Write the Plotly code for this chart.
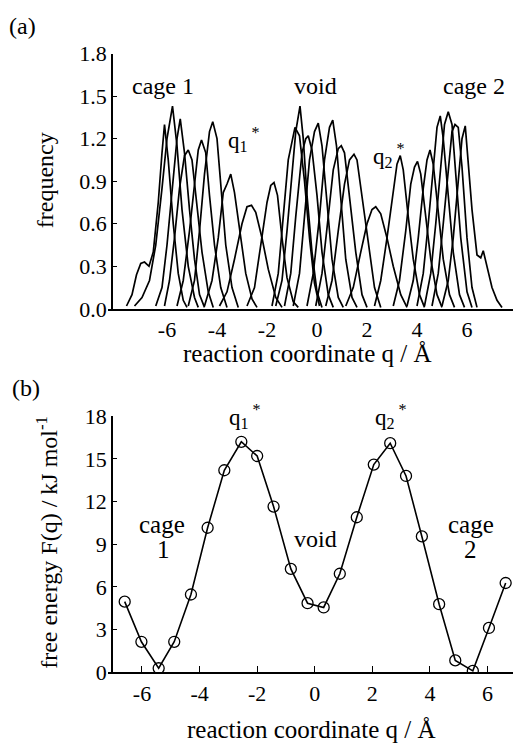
import plotly.graph_objects as go

# ---------------- data ----------------
# (a) umbrella-sampling histograms: q values and frequencies of each window
hist_q = [
    [-7.62, -7.40, -7.22, -7.05, -6.90, -6.72, -6.55, -6.35, -6.20, -6.10, -5.95, -5.75, -5.55, -5.35, -5.20],
    [-7.30, -7.00, -6.70, -6.45, -6.20, -6.00, -5.78, -5.60, -5.40, -5.15, -4.90, -4.75],
    [-6.45, -6.20, -6.00, -5.80, -5.60, -5.47, -5.30, -5.10, -4.90, -4.70, -4.50],
    [-6.10, -5.90, -5.70, -5.50, -5.30, -5.15, -5.00, -4.85, -4.60, -4.35, -4.15],
    [-5.60, -5.35, -5.10, -4.90, -4.75, -4.62, -4.45, -4.30, -4.10, -3.85, -3.60],
    [-5.15, -4.90, -4.70, -4.50, -4.30, -4.17, -4.00, -3.85, -3.65, -3.40, -3.15],
    [-4.50, -4.20, -3.95, -3.75, -3.60, -3.45, -3.30, -3.10, -2.85, -2.60, -2.40],
    [-3.90, -3.60, -3.30, -3.00, -2.80, -2.62, -2.45, -2.20, -1.95, -1.65, -1.40],
    [-2.80, -2.50, -2.25, -2.00, -1.85, -1.72, -1.58, -1.40, -1.20, -0.95, -0.75],
    [-1.65, -1.40, -1.20, -1.00, -0.85, -0.68, -0.55, -0.40, -0.20, 0.00, 0.20],
    [-1.80, -1.55, -1.35, -1.15, -0.88, -0.70, -0.50, -0.30, -0.10, 0.10],
    [-1.30, -1.05, -0.85, -0.60, -0.45, -0.35, -0.20, 0.00, 0.20, 0.45, 0.65],
    [-0.95, -0.70, -0.50, -0.30, -0.10, 0.05, 0.20, 0.40, 0.60, 0.85, 1.05],
    [-0.40, -0.15, 0.10, 0.30, 0.50, 0.63, 0.78, 0.95, 1.15, 1.40, 1.60],
    [-0.05, 0.20, 0.45, 0.65, 0.85, 0.97, 1.10, 1.30, 1.55, 1.80, 2.00],
    [0.35, 0.60, 0.85, 1.10, 1.30, 1.48, 1.60, 1.80, 2.05, 2.30, 2.55],
    [1.15, 1.45, 1.75, 2.00, 2.20, 2.35, 2.55, 2.80, 3.05, 3.35, 3.60],
    [2.30, 2.55, 2.80, 3.05, 3.20, 3.33, 3.45, 3.65, 3.85, 4.10, 4.30],
    [3.05, 3.30, 3.55, 3.75, 3.90, 4.02, 4.15, 4.35, 4.55, 4.80, 5.00],
    [3.60, 3.85, 4.05, 4.25, 4.40, 4.52, 4.65, 4.85, 5.05, 5.30, 5.50],
    [4.00, 4.25, 4.45, 4.65, 4.80, 4.93, 5.05, 5.25, 5.45, 5.70, 5.90],
    [4.30, 4.55, 4.75, 4.95, 5.10, 5.25, 5.40, 5.55, 5.75, 6.00, 6.20],
    [4.60, 4.85, 5.05, 5.25, 5.40, 5.52, 5.65, 5.80, 6.00, 6.20, 6.40],
    [5.00, 5.25, 5.45, 5.65, 5.80, 5.93, 6.05, 6.20, 6.40, 6.55, 6.65, 6.80, 7.00, 7.20, 7.40],
]
hist_freq = [
    [0.02, 0.10, 0.24, 0.32, 0.33, 0.30, 0.40, 0.75, 1.10, 1.30, 1.05, 0.60, 0.25, 0.06, 0.01],
    [0.02, 0.08, 0.20, 0.45, 0.85, 1.20, 1.43, 1.15, 0.70, 0.30, 0.08, 0.01],
    [0.02, 0.15, 0.45, 0.85, 1.20, 1.34, 1.10, 0.70, 0.35, 0.10, 0.01],
    [0.02, 0.20, 0.50, 0.85, 1.08, 1.12, 1.05, 0.80, 0.40, 0.12, 0.01],
    [0.02, 0.20, 0.55, 0.90, 1.12, 1.19, 1.10, 0.80, 0.45, 0.15, 0.01],
    [0.02, 0.20, 0.55, 0.95, 1.25, 1.32, 1.20, 0.85, 0.45, 0.15, 0.01],
    [0.02, 0.20, 0.50, 0.82, 0.88, 0.95, 0.82, 0.55, 0.25, 0.07, 0.01],
    [0.02, 0.12, 0.35, 0.60, 0.72, 0.73, 0.68, 0.50, 0.28, 0.08, 0.01],
    [0.02, 0.15, 0.45, 0.75, 0.87, 0.89, 0.80, 0.50, 0.22, 0.05, 0.01],
    [0.02, 0.20, 0.55, 0.95, 1.25, 1.43, 1.20, 0.80, 0.40, 0.12, 0.01],
    [0.02, 0.25, 0.65, 1.05, 1.28, 1.22, 0.90, 0.50, 0.18, 0.02],
    [0.02, 0.25, 0.65, 1.10, 1.20, 1.22, 1.12, 0.80, 0.40, 0.10, 0.01],
    [0.02, 0.25, 0.65, 1.05, 1.25, 1.31, 1.15, 0.75, 0.35, 0.08, 0.01],
    [0.02, 0.25, 0.65, 1.05, 1.28, 1.33, 1.15, 0.75, 0.35, 0.08, 0.01],
    [0.02, 0.25, 0.65, 0.98, 1.13, 1.15, 1.10, 0.80, 0.40, 0.10, 0.01],
    [0.02, 0.20, 0.55, 0.88, 1.05, 1.09, 1.05, 0.80, 0.45, 0.15, 0.01],
    [0.02, 0.15, 0.40, 0.60, 0.70, 0.72, 0.67, 0.50, 0.30, 0.10, 0.01],
    [0.02, 0.20, 0.50, 0.85, 1.02, 1.08, 0.98, 0.65, 0.35, 0.10, 0.01],
    [0.02, 0.20, 0.55, 0.88, 1.00, 1.04, 0.95, 0.65, 0.35, 0.10, 0.01],
    [0.02, 0.20, 0.50, 0.85, 1.05, 1.12, 1.02, 0.70, 0.35, 0.10, 0.01],
    [0.02, 0.25, 0.60, 1.00, 1.28, 1.36, 1.20, 0.80, 0.40, 0.10, 0.01],
    [0.02, 0.25, 0.60, 1.00, 1.30, 1.39, 1.30, 0.95, 0.50, 0.12, 0.01],
    [0.02, 0.25, 0.60, 1.00, 1.25, 1.30, 1.28, 1.00, 0.50, 0.15, 0.01],
    [0.02, 0.20, 0.50, 0.90, 1.20, 1.29, 1.05, 0.70, 0.38, 0.36, 0.41, 0.30, 0.15, 0.06, 0.01],
]

# (b) free energy profile
q_pmf = [-6.60, -6.02, -5.42, -4.88, -4.30, -3.72, -3.14, -2.55, -2.00, -1.43, -0.83, -0.25,
         0.31, 0.87, 1.46, 2.05, 2.62, 3.17, 3.72, 4.32, 4.88, 5.49, 6.05, 6.63]
F_pmf = [4.97, 2.15, 0.29, 2.15, 5.47, 10.16, 14.2, 16.2, 15.2, 11.65, 7.27, 4.86,
         4.56, 6.93, 10.9, 14.6, 16.1, 13.8, 9.55, 4.79, 0.84, 0.11, 3.12, 6.28]

freq_ticks = [0.0, 0.3, 0.6, 0.9, 1.2, 1.5, 1.8]
freq_labels = ["0.0", "0.3", "0.6", "0.9", "1.2", "1.5", "1.8"]
F_ticks = [0, 3, 6, 9, 12, 15, 18]
F_labels = ["0", "3", "6", "9", "12", "15", "18"]
q_ticks = [-6, -4, -2, 0, 2, 4, 6]
q_labels = ["-6", "-4", "-2", "0", "2", "4", "6"]

# ---------------- figure ----------------
W, H = 514, 755
FONT = "Liberation Serif"


def px(x):
    return x / W


def py(y):
    return 1 - y / H


fig = go.Figure()

for qs, fs in zip(hist_q, hist_freq):
    fig.add_trace(go.Scatter(x=qs, y=fs, mode="lines", xaxis="x", yaxis="y",
                             line=dict(color="black", width=1.7), showlegend=False,
                             hoverinfo="skip"))

fig.add_trace(go.Scatter(x=q_pmf, y=F_pmf, mode="lines+markers", xaxis="x2", yaxis="y2",
                         line=dict(color="black", width=1.6),
                         marker=dict(symbol="circle-open", size=11, color="black",
                                     line=dict(width=1.3, color="black")),
                         showlegend=False))

axis_common = dict(showgrid=False, zeroline=False, showline=True, linecolor="black",
                   linewidth=1.5, tickfont=dict(family=FONT, size=22, color="black"),
                   ticks="inside", tickcolor="black", tickwidth=1.2)

fig.update_layout(
    width=W, height=H,
    margin=dict(l=0, r=0, t=0, b=0),
    paper_bgcolor="white", plot_bgcolor="white",
    font=dict(family=FONT, color="black", size=22),
    xaxis=dict(axis_common, domain=[px(108), px(513)], anchor="y",
               range=[-8.36, 7.84], tickvals=q_ticks, ticktext=q_labels,
               ticks="", ticklen=0),
    yaxis=dict(axis_common, domain=[py(307), py(43)], anchor="free", position=px(112),
               range=[0, 1.8], tickvals=freq_ticks, ticktext=freq_labels, ticklen=4),
    xaxis2=dict(axis_common, domain=[px(108), px(513)], anchor="y2",
                range=[-7.18, 6.885], tickvals=q_ticks, ticktext=q_labels, ticklen=7),
    yaxis2=dict(axis_common, domain=[py(683), py(418)], anchor="free", position=px(112),
                range=[0, 18], tickvals=F_ticks, ticktext=F_labels, ticklen=4),
)


def label(text, x, y, size=24, angle=0):
    fig.add_annotation(text=text, x=px(x), y=py(y), xref="paper", yref="paper",
                       showarrow=False, xanchor="center", yanchor="middle",
                       font=dict(family=FONT, size=size, color="black"), textangle=angle)


# panel (a)
label("(a)", 22, 14, 24)
label("frequency", 45, 174, 24, -90)
label("reaction coordinate q / Å", 307, 353, 25)
label("cage 1", 163, 77, 24)
label("void", 315, 77, 24)
label("cage 2", 474, 77, 24)
label("q<sub>1</sub><sup> *</sup>", 244, 132, 23)
label("q<sub>2</sub><sup> *</sup>", 389, 148, 23)

# panel (b)
label("(b)", 26, 389, 24)
label("free energy F(q) / kJ mol<sup>-1</sup>", 47, 549, 24, -90)
label("reaction coordinate q / Å", 311, 742, 25)
label("q<sub>1</sub><sup> *</sup>", 245, 418, 23)
label("q<sub>2</sub><sup> *</sup>", 391, 418, 23)
label("cage", 162, 530, 25)
label("1", 163, 556, 25)
label("void", 315, 545, 24)
label("cage", 471, 530, 25)
label("2", 470, 556, 25)

fig.write_html("out.html")
